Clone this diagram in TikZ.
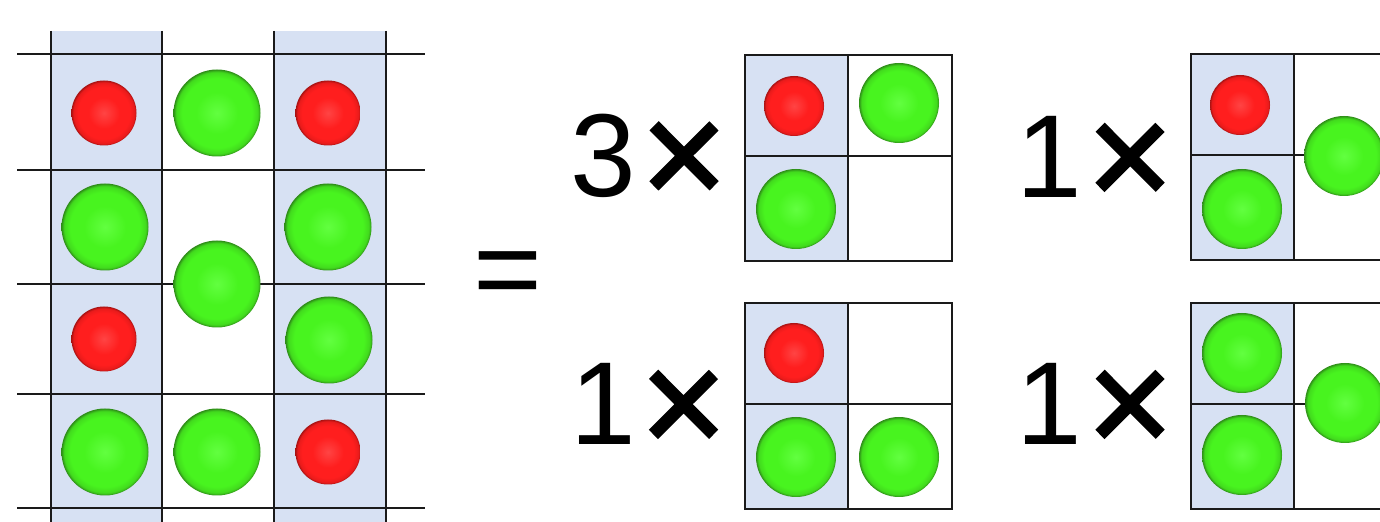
\documentclass[tikz,border=0pt]{standalone}
\usepackage{fontspec}
\setmainfont{Liberation Sans}
\newfontfamily\timesfont[FakeBold=1.6]{Liberation Sans}
\usepackage{tikz}
\definecolor{cellblue}{HTML}{D7E1F3}
\definecolor{gridline}{HTML}{1A1A1A}
\definecolor{redhi}{HTML}{FF4444}
\definecolor{redmid}{HTML}{FF1E1E}
\definecolor{redrim}{HTML}{A81212}
\definecolor{greenhi}{HTML}{62FF40}
\definecolor{greenmid}{HTML}{48F41F}
\definecolor{greenrim}{HTML}{2E8C18}
\pgfdeclareradialshading{redshade}{\pgfpoint{0bp}{0bp}}{color(0bp)=(redhi); color(12bp)=(redmid); color(20bp)=(redmid); color(23.5bp)=(redmid!75!redrim); color(25bp)=(redrim); color(50bp)=(redrim)}
\pgfdeclareradialshading{greenshade}{\pgfpoint{0bp}{0bp}}{color(0bp)=(greenhi); color(12bp)=(greenmid); color(20bp)=(greenmid); color(23.5bp)=(greenmid!75!greenrim); color(25bp)=(greenrim); color(50bp)=(greenrim)}

\begin{document}
\begin{tikzpicture}[x=0.5pt,y=-0.5pt,
  gline/.style={line width=1pt,gridline},
  redball/.style={circle,inner sep=0pt,minimum size=#1,shading=redshade},
  greenball/.style={circle,inner sep=0pt,minimum size=#1,shading=greenshade},
  bigtext/.style={inner sep=0pt,font=\fontsize{59}{60}\selectfont},
  timestext/.style={inner sep=0pt,font=\fontsize{74}{76}\timesfont}]
  \useasboundingbox (0,0) rectangle (1380,522);
  \clip (0,0) rectangle (1380,522);
  % big lattice
  \fill[cellblue] (51,31) rectangle (162,522);
  \fill[cellblue] (274,31) rectangle (386,522);
  \foreach \y in {54,170,284,394,508}
    \draw[gline] (17,\y) -- (425,\y);
  \foreach \x in {51,162,274,386}
    \draw[gline] (\x,31) -- (\x,522);
  \node[redball=32.5pt] (r11) at (104,113) {};
  \node[greenball=43.5pt] (g12) at (217,113) {};
  \node[redball=32.5pt] (r13) at (328,113) {};
  \node[greenball=43.5pt] (g21) at (105,227) {};
  \node[greenball=43.5pt] (g23) at (328,227) {};
  \node[greenball=43.5pt] (gmid) at (217,284) {};
  \node[redball=32.5pt] (r31) at (104,339) {};
  \node[greenball=43.5pt] (g33) at (329,340) {};
  \node[greenball=43.5pt] (g41) at (105,452) {};
  \node[greenball=43.5pt] (g42) at (217,452) {};
  \node[redball=32.5pt] (r43) at (328,452) {};
  \node[bigtext] (eq) at (508,281) {=};
  % small cells
  \foreach \bx/\by in {745/55,745/303,1191/54,1191/303} {
    \fill[cellblue] (\bx,\by) rectangle ++(103,206);
    \draw[gline] (\bx,\by) rectangle ++(207,206);
    \draw[gline] (\bx+103,\by) -- ++(0,206);
    \draw[gline] (\bx,\by+101) -- ++(207,0);
  }
  \node[bigtext] (na) at (603,155.5) {3};
  \node[timestext] (xa) at (684,164) {×};
  \node[redball=30pt] (ar1) at (794,106) {};
  \node[greenball=40pt] (ag2) at (899,103) {};
  \node[greenball=40pt] (ag3) at (796,209) {};
  \node[bigtext] (nb) at (603,404) {1};
  \node[timestext] (xb) at (683.5,412.5) {×};
  \node[redball=30pt] (br1) at (794,353) {};
  \node[greenball=40pt] (bg2) at (796,457) {};
  \node[greenball=40pt] (bg3) at (899,457) {};
  \node[bigtext] (nc) at (1049,157) {1};
  \node[timestext] (xc) at (1130,165.5) {×};
  \node[redball=30pt] (cr1) at (1240,105) {};
  \node[greenball=40pt] (cg2) at (1242,209) {};
  \node[greenball=40pt] (cg3) at (1344,156) {};
  \node[bigtext] (nd) at (1049,404) {1};
  \node[timestext] (xd) at (1130,412.5) {×};
  \node[greenball=40pt] (dg1) at (1242,353) {};
  \node[greenball=40pt] (dg2) at (1242,455) {};
  \node[greenball=40pt] (dg3) at (1345,403) {};
\end{tikzpicture}
\end{document}
